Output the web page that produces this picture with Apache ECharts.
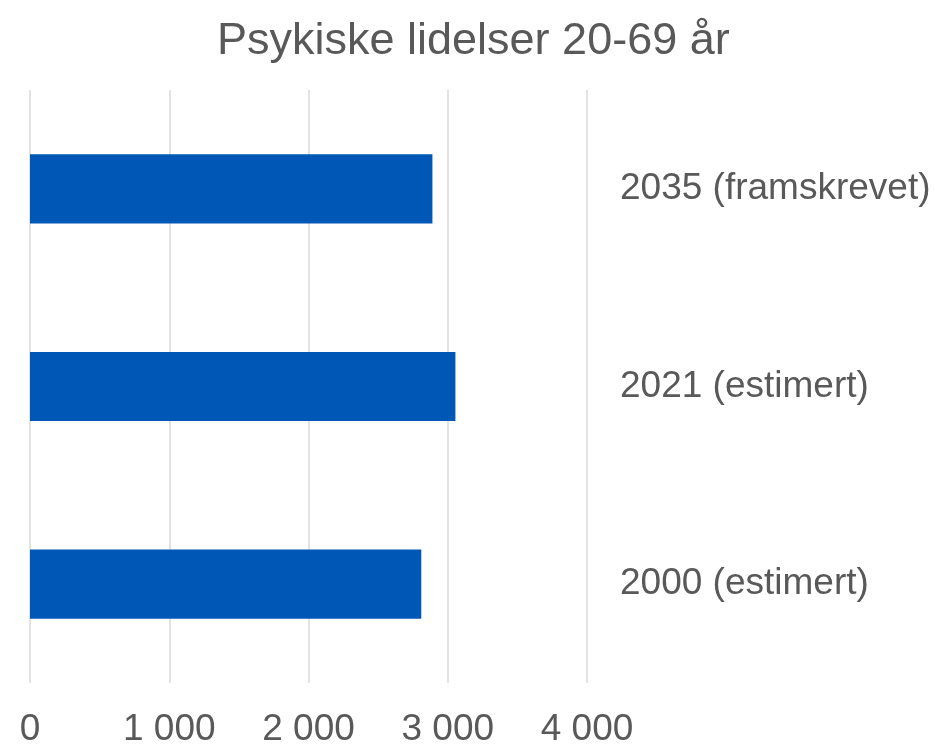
<!DOCTYPE html>
<html>
<head>
<meta charset="utf-8">
<script src="https://cdn.jsdelivr.net/npm/echarts@6/dist/echarts.min.js"></script>
<style>
  html, body { margin: 0; padding: 0; background: #ffffff; }
  #chart { width: 935px; height: 748px; }
</style>
</head>
<body>
<div id="chart"></div>
<script>
// Categories listed top to bottom
const categories = ['2035 (framskrevet)', '2021 (estimert)', '2000 (estimert)'];
const values = [2890, 3055, 2810];
const xTicks = { min: 0, max: 4000, interval: 1000 };
const titleText = 'Psykiske lidelser 20-69 år';

const textColor = '#595959';
const fontFamily = '"Liberation Sans", Arial, sans-serif';

function formatThousands(v) {
  return String(v).replace(/\B(?=(\d{3})+(?!\d))/g, ' ');
}

const chart = echarts.init(document.getElementById('chart'), null, { renderer: 'canvas' });
chart.setOption({
  backgroundColor: '#ffffff',
  animation: false,
  title: {
    text: titleText,
    left: 212,
    top: 14,
    textStyle: { color: textColor, fontSize: 45, fontWeight: 'normal', fontFamily: fontFamily }
  },
  grid: { left: 30, right: 348, top: 90, bottom: 62, containLabel: false },
  xAxis: {
    type: 'value',
    min: xTicks.min,
    max: xTicks.max,
    interval: xTicks.interval,
    axisLine: { show: false },
    axisTick: { show: false },
    splitLine: { show: true, lineStyle: { color: '#d9d9d9', width: 1.5 } },
    axisLabel: {
      margin: 28,
      color: textColor,
      fontSize: 37,
      fontFamily: fontFamily,
      formatter: formatThousands
    }
  },
  yAxis: {
    type: 'category',
    data: categories,
    inverse: true,
    position: 'right',
    axisLine: { show: false },
    axisTick: { show: false },
    splitLine: { show: false },
    axisLabel: {
      margin: 33,
      align: 'left',
      color: textColor,
      fontSize: 37,
      fontFamily: fontFamily
    }
  },
  series: [{
    type: 'bar',
    data: values,
    barWidth: '35%',
    itemStyle: { color: '#0057B5' }
  }]
});
</script>
</body>
</html>
